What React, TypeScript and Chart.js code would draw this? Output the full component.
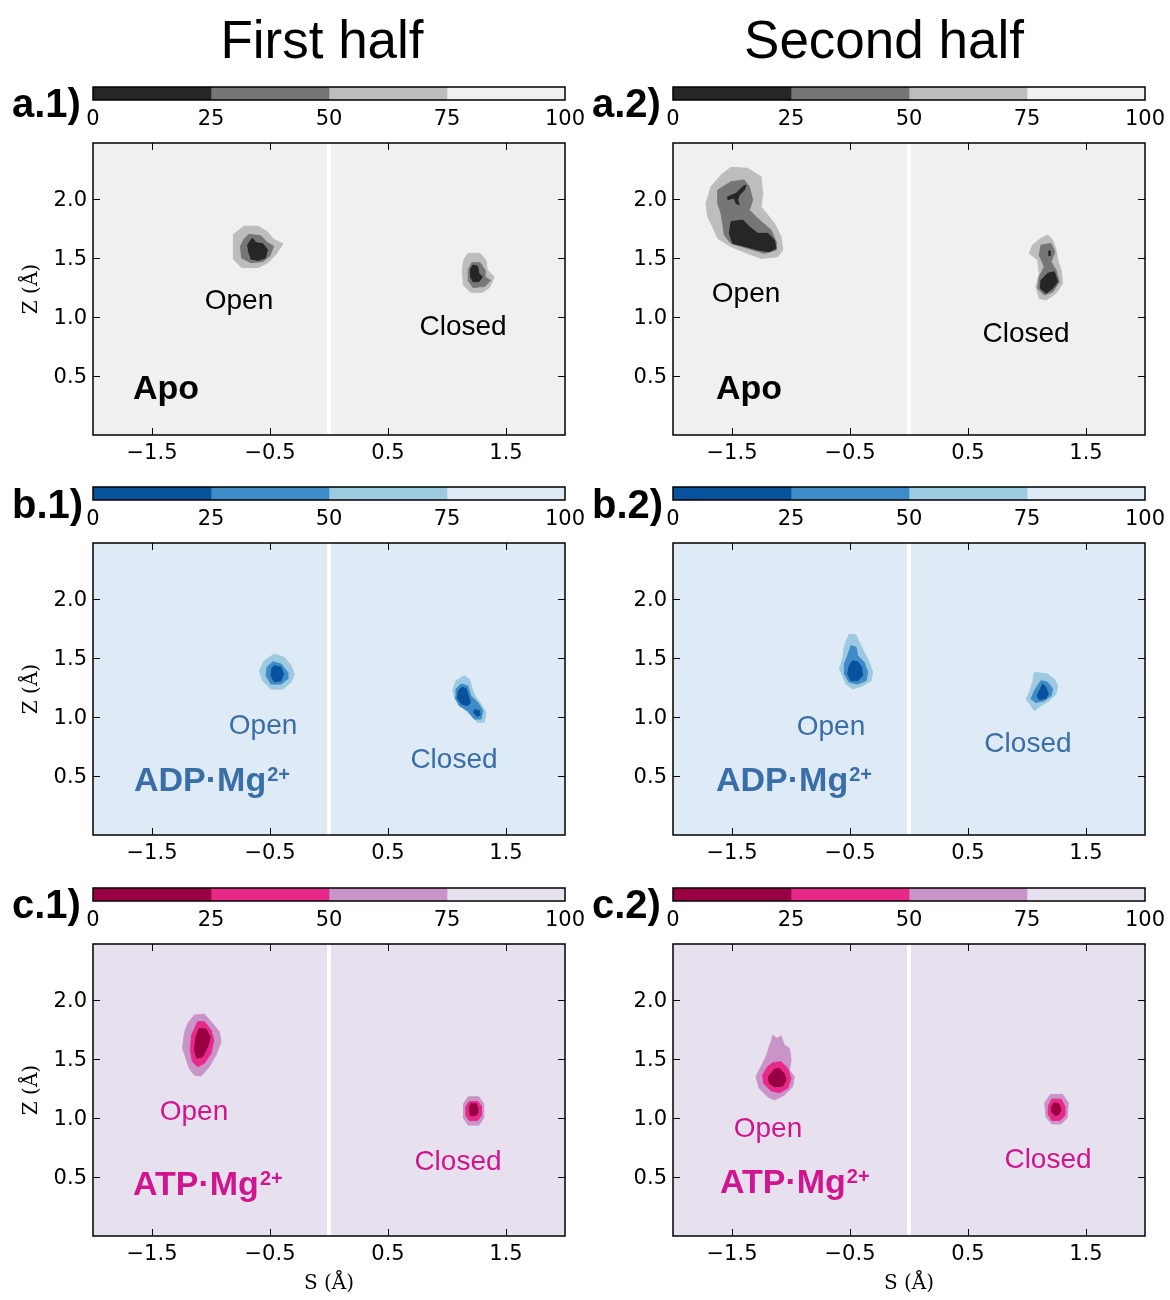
import React, { useEffect, useRef } from "react";
import { Chart, registerables } from "chart.js";
Chart.register(...registerables);

type Pt = [number, number];

// ---- axes / scale data ----
const X_TICKS = [-1.5, -0.5, 0.5, 1.5];
const Y_TICKS = [0.5, 1.0, 1.5, 2.0];
const X_MIN = -2;
const X_MAX = 2;
const Y_MIN = 0;
const Y_MAX = 2.475;
const SEPARATOR: Pt[] = [[0, 0], [0, 2.475]];
const CB_TICKS = [0, 25, 50, 75, 100];
const CB_SEGMENTS = [25, 25, 25, 25];

const HALF_TITLES = ["First half", "Second half"];
const PANEL_TAGS = [["a.1)", "a.2)"], ["b.1)", "b.2)"], ["c.1)", "c.2)"]];
const LIGANDS = ["Apo", "ADP·Mg", "ATP·Mg"];
const LIGAND_SUP = ["", "2+", "2+"];
const STATES = ["Open", "Closed"];

// colour levels: 0–25, 25–50, 50–75, 75–100
const GREYS = ["#262626", "#767676", "#bdbdbd", "#f0f0f0"];
const BLUES = ["#08519c", "#3d8bc7", "#9ecae1", "#deebf7"];
const PURDS = ["#980043", "#e7298a", "#c994c7", "#e7e1ef"];
const TEXT_COLORS = ["#000000", "#3a6ea6", "#d0168f"];

// ---- contour polygons (S, Z) ----
// a.1
const a1Open75: Pt[] = [[-0.72,1.77],[-0.6,1.77],[-0.52,1.72],[-0.47,1.66],[-0.39,1.62],[-0.45,1.53],[-0.52,1.46],[-0.6,1.42],[-0.74,1.42],[-0.81,1.49],[-0.81,1.7]];
const a1Open50: Pt[] = [[-0.68,1.7],[-0.58,1.69],[-0.52,1.63],[-0.47,1.6],[-0.5,1.52],[-0.56,1.47],[-0.66,1.46],[-0.74,1.5],[-0.75,1.6],[-0.72,1.66]];
const a1Open25: Pt[] = [[-0.65,1.67],[-0.62,1.63],[-0.56,1.62],[-0.52,1.57],[-0.54,1.5],[-0.6,1.48],[-0.66,1.49],[-0.68,1.55],[-0.69,1.61]];
const a1Closed75: Pt[] = [[1.18,1.54],[1.28,1.54],[1.33,1.48],[1.34,1.4],[1.4,1.34],[1.36,1.25],[1.3,1.21],[1.2,1.21],[1.14,1.27],[1.13,1.38],[1.14,1.48]];
const a1Closed50: Pt[] = [[1.21,1.46],[1.28,1.46],[1.32,1.4],[1.32,1.34],[1.37,1.31],[1.32,1.26],[1.22,1.25],[1.18,1.31],[1.18,1.4]];
const a1Closed25: Pt[] = [[1.22,1.44],[1.26,1.43],[1.27,1.37],[1.3,1.34],[1.27,1.3],[1.22,1.3],[1.2,1.34],[1.2,1.41]];
// a.2
const a2Open75: Pt[] = [[-1.508,2.269],[-1.367,2.26],[-1.254,2.189],[-1.24,2.048],[-1.254,1.935],[-1.141,1.794],[-1.085,1.681],[-1.07,1.568],[-1.113,1.511],[-1.254,1.497],[-1.367,1.54],[-1.508,1.596],[-1.621,1.667],[-1.664,1.765],[-1.706,1.85],[-1.72,1.964],[-1.678,2.104],[-1.593,2.203]];
const a2Open50: Pt[] = [[-1.621,2.076],[-1.508,2.147],[-1.396,2.161],[-1.353,2.104],[-1.325,1.992],[-1.353,1.907],[-1.282,1.836],[-1.169,1.737],[-1.127,1.638],[-1.127,1.568],[-1.226,1.54],[-1.367,1.582],[-1.508,1.624],[-1.565,1.695],[-1.579,1.794],[-1.593,1.879],[-1.621,1.964]];
const a2Open25: Pt[] = [[-1.508,1.808],[-1.409,1.822],[-1.353,1.765],[-1.282,1.709],[-1.197,1.709],[-1.141,1.653],[-1.127,1.582],[-1.184,1.553],[-1.282,1.568],[-1.381,1.596],[-1.494,1.624],[-1.523,1.709]];
const a2Open25b: Pt[] = [[-1.536,2.02],[-1.466,2.048],[-1.409,2.104],[-1.381,2.119],[-1.396,2.076],[-1.438,2.034],[-1.452,1.992],[-1.438,1.949],[-1.466,1.964],[-1.48,2.006],[-1.536,1.997]];
const a2Closed75: Pt[] = [[1.119,1.667],[1.175,1.695],[1.218,1.653],[1.246,1.568],[1.26,1.483],[1.288,1.398],[1.302,1.286],[1.246,1.201],[1.161,1.144],[1.104,1.158],[1.076,1.257],[1.104,1.37],[1.091,1.483],[1.02,1.54],[1.048,1.61]];
const a2Closed50: Pt[] = [[1.119,1.61],[1.203,1.624],[1.237,1.553],[1.203,1.469],[1.246,1.398],[1.274,1.299],[1.218,1.214],[1.147,1.186],[1.091,1.243],[1.104,1.341],[1.147,1.426],[1.104,1.525]];
const a2Closed25: Pt[] = [[1.175,1.37],[1.231,1.384],[1.26,1.299],[1.218,1.243],[1.161,1.201],[1.113,1.243],[1.119,1.314]];
const a2Closed25b: Pt[] = [[1.185,1.56],[1.195,1.56],[1.195,1.52],[1.185,1.52]];
// b.1
const b1Open75: Pt[] = [[-0.464,1.534],[-0.379,1.506],[-0.322,1.435],[-0.294,1.364],[-0.322,1.294],[-0.392,1.237],[-0.492,1.237],[-0.562,1.308],[-0.591,1.392],[-0.548,1.477]];
const b1Open50: Pt[] = [[-0.477,1.469],[-0.407,1.449],[-0.35,1.379],[-0.35,1.322],[-0.407,1.28],[-0.492,1.28],[-0.534,1.35],[-0.525,1.421]];
const b1Open25: Pt[] = [[-0.464,1.435],[-0.407,1.421],[-0.385,1.364],[-0.407,1.308],[-0.464,1.299],[-0.492,1.35],[-0.486,1.407]];
const b1Closed75: Pt[] = [[1.147,1.35],[1.189,1.322],[1.218,1.223],[1.246,1.167],[1.288,1.11],[1.331,1.04],[1.316,0.955],[1.26,0.955],[1.203,1.011],[1.133,1.082],[1.076,1.138],[1.048,1.223],[1.076,1.308]];
const b1Closed50: Pt[] = [[1.119,1.28],[1.175,1.265],[1.203,1.181],[1.26,1.124],[1.303,1.054],[1.288,0.983],[1.232,0.983],[1.175,1.054],[1.104,1.096],[1.068,1.167],[1.076,1.237]];
const b1Closed25: Pt[] = [[1.124,1.251],[1.161,1.243],[1.181,1.181],[1.198,1.124],[1.175,1.096],[1.124,1.11],[1.09,1.158],[1.096,1.223]];
const b1Closed25b: Pt[] = [[1.232,1.062],[1.274,1.054],[1.282,1.017],[1.254,1.006],[1.226,1.034]];
// b.2
const b2Open75: Pt[] = [[-0.506,1.703],[-0.449,1.695],[-0.421,1.633],[-0.379,1.548],[-0.336,1.463],[-0.308,1.379],[-0.322,1.308],[-0.393,1.265],[-0.477,1.237],[-0.534,1.28],[-0.576,1.379],[-0.591,1.407],[-0.562,1.492],[-0.548,1.605]];
const b2Open50: Pt[] = [[-0.492,1.605],[-0.449,1.591],[-0.435,1.52],[-0.379,1.463],[-0.35,1.379],[-0.364,1.308],[-0.435,1.28],[-0.506,1.294],[-0.548,1.364],[-0.548,1.449],[-0.52,1.52]];
const b2Open25: Pt[] = [[-0.477,1.477],[-0.435,1.469],[-0.401,1.421],[-0.393,1.35],[-0.435,1.308],[-0.492,1.308],[-0.52,1.364],[-0.506,1.435]];
const b2Closed75: Pt[] = [[1.062,1.379],[1.175,1.364],[1.231,1.322],[1.26,1.265],[1.246,1.195],[1.189,1.138],[1.119,1.096],[1.062,1.054],[1.034,1.096],[0.992,1.153],[1.02,1.209],[1.048,1.294]];
const b2Closed50: Pt[] = [[1.119,1.308],[1.175,1.294],[1.218,1.237],[1.203,1.181],[1.147,1.138],[1.076,1.124],[1.034,1.153],[1.062,1.223]];
const b2Closed25: Pt[] = [[1.133,1.28],[1.161,1.251],[1.181,1.195],[1.161,1.158],[1.104,1.147],[1.085,1.181],[1.113,1.237]];
// c.1
const c1Open75: Pt[] = [[-1.141,1.873],[-1.057,1.881],[-0.986,1.802],[-0.93,1.731],[-0.915,1.647],[-0.958,1.534],[-1.014,1.435],[-1.085,1.356],[-1.141,1.364],[-1.184,1.421],[-1.212,1.506],[-1.24,1.591],[-1.226,1.718],[-1.197,1.802]];
const c1Open50: Pt[] = [[-1.113,1.816],[-1.057,1.816],[-1.0,1.746],[-0.977,1.661],[-1.0,1.548],[-1.057,1.464],[-1.113,1.435],[-1.156,1.477],[-1.176,1.576],[-1.164,1.703]];
const c1Open25: Pt[] = [[-1.099,1.76],[-1.042,1.752],[-1.006,1.689],[-1.028,1.604],[-1.071,1.52],[-1.119,1.506],[-1.141,1.576],[-1.127,1.689]];
const c1Closed75: Pt[] = [[1.18,1.18],[1.27,1.18],[1.31,1.12],[1.31,1.0],[1.27,0.94],[1.18,0.94],[1.14,1.0],[1.14,1.12]];
const c1Closed50: Pt[] = [[1.19,1.14],[1.26,1.14],[1.29,1.1],[1.29,1.02],[1.26,0.98],[1.19,0.98],[1.16,1.02],[1.16,1.1]];
const c1Closed25: Pt[] = [[1.2,1.12],[1.25,1.12],[1.26,1.09],[1.26,1.04],[1.24,1.02],[1.2,1.02],[1.19,1.05],[1.19,1.09]];
// c.2
const c2Open75: Pt[] = [[-1.155,1.703],[-1.119,1.675],[-1.085,1.695],[-1.057,1.619],[-1.014,1.591],[-1.0,1.492],[-1.014,1.407],[-0.972,1.35],[-0.986,1.265],[-1.057,1.195],[-1.141,1.153],[-1.198,1.181],[-1.269,1.252],[-1.297,1.35],[-1.254,1.435],[-1.212,1.519],[-1.184,1.604],[-1.164,1.661]];
const c2Open50: Pt[] = [[-1.155,1.469],[-1.085,1.477],[-1.028,1.421],[-1.0,1.336],[-1.028,1.252],[-1.099,1.214],[-1.169,1.231],[-1.231,1.294],[-1.24,1.364],[-1.198,1.435]];
const c2Open25: Pt[] = [[-1.141,1.413],[-1.099,1.421],[-1.057,1.379],[-1.042,1.322],[-1.07,1.271],[-1.141,1.265],[-1.184,1.294],[-1.192,1.35]];
const c2Closed75: Pt[] = [[1.2,1.2],[1.3,1.2],[1.35,1.13],[1.34,1.0],[1.29,0.95],[1.21,0.95],[1.16,1.01],[1.15,1.13]];
const c2Closed50: Pt[] = [[1.21,1.16],[1.29,1.16],[1.32,1.1],[1.32,1.02],[1.28,0.98],[1.21,0.98],[1.18,1.03],[1.18,1.1]];
const c2Closed25: Pt[] = [[1.23,1.13],[1.27,1.12],[1.29,1.07],[1.27,1.03],[1.24,1.02],[1.21,1.05],[1.21,1.1]];

// level index per polygon: 2 = 50–75, 1 = 25–50, 0 = 0–25
const POLYS: [number, Pt[]][][][] = [
  [
    [[2, a1Open75], [1, a1Open50], [0, a1Open25], [2, a1Closed75], [1, a1Closed50], [0, a1Closed25]],
    [[2, a2Open75], [1, a2Open50], [0, a2Open25], [0, a2Open25b], [2, a2Closed75], [1, a2Closed50], [0, a2Closed25], [0, a2Closed25b]],
  ],
  [
    [[2, b1Open75], [1, b1Open50], [0, b1Open25], [2, b1Closed75], [1, b1Closed50], [0, b1Closed25], [0, b1Closed25b]],
    [[2, b2Open75], [1, b2Open50], [0, b2Open25], [2, b2Closed75], [1, b2Closed50], [0, b2Closed25]],
  ],
  [
    [[2, c1Open75], [1, c1Open50], [0, c1Open25], [2, c1Closed75], [1, c1Closed50], [0, c1Closed25]],
    [[2, c2Open75], [1, c2Open50], [0, c2Open25], [2, c2Closed75], [1, c2Closed50], [0, c2Closed25]],
  ],
];

// label anchors (S, Z): open label centre, closed label centre, ligand label left edge
const OPEN_POS: Pt[][] = [[[-0.763, 1.134], [-1.381, 1.193]], [[-0.559, 0.922], [-0.661, 0.914]], [[-1.144, 1.049], [-1.195, 0.905]]];
const CLOSED_POS: Pt[][] = [[[1.136, 0.914], [0.992, 0.854]], [[1.059, 0.634], [1.008, 0.77]], [[1.093, 0.626], [1.178, 0.643]]];
const LIGAND_POS: Pt[][] = [[[-1.661, 0.381], [-1.636, 0.381]], [[-1.653, 0.449], [-1.636, 0.449]], [[-1.661, 0.424], [-1.602, 0.441]]];

const PALETTES = [GREYS, BLUES, PURDS];

// ---- layout ----
const COL_LEFT = [93, 673];
const ROW_TOP = [143, 543, 944];
const PLOT_W = 472;
const PLOT_H = 292;
const Y_AXIS_W = 90;
const X_AXIS_H = 60;
const PAD_TOP = 24;
const PAD_RIGHT = 6;

const TICK_FONT = { family: "'DejaVu Sans', sans-serif", size: 21 };
const TITLE_FONT = { family: "'DejaVu Serif', serif", size: 20 };
const SANS = "'Liberation Sans', Arial, sans-serif";

const fmt = (v: number) => (v < 0 ? "\u2212" + Math.abs(v).toFixed(1) : v.toFixed(1));

const panelPlugin = {
  id: "panelDecor",
  beforeDraw(chart: any, _a: any, opts: any) {
    const { ctx, chartArea: ca } = chart;
    ctx.save();
    ctx.fillStyle = opts.bg;
    ctx.fillRect(ca.left, ca.top, ca.right - ca.left, ca.bottom - ca.top);
    ctx.restore();
  },
  afterDatasetsDraw(chart: any, _a: any, opts: any) {
    const { ctx, scales } = chart;
    ctx.save();
    for (const lb of opts.labels) {
      const px = scales.x.getPixelForValue(lb.x);
      const py = scales.y.getPixelForValue(lb.y);
      ctx.font = `${lb.bold ? "bold " : ""}${lb.size}px ${SANS}`;
      ctx.fillStyle = lb.color;
      ctx.textAlign = lb.align;
      ctx.textBaseline = "middle";
      ctx.fillText(lb.text, px, py);
      if (lb.sup) {
        const w = ctx.measureText(lb.text).width;
        ctx.font = `bold ${Math.round(lb.size * 0.6)}px ${SANS}`;
        ctx.textAlign = "left";
        ctx.fillText(lb.sup, px + w + 1, py - lb.size * 0.2);
      }
    }
    ctx.restore();
  },
  afterDraw(chart: any) {
    const { ctx, chartArea: ca, scales } = chart;
    ctx.save();
    ctx.strokeStyle = "#000";
    ctx.lineWidth = 1;
    const tl = 7;
    ctx.beginPath();
    for (const v of X_TICKS) {
      const px = Math.round(scales.x.getPixelForValue(v)) + 0.5;
      ctx.moveTo(px, ca.bottom);
      ctx.lineTo(px, ca.bottom - tl);
      ctx.moveTo(px, ca.top);
      ctx.lineTo(px, ca.top + tl);
    }
    for (const v of Y_TICKS) {
      const py = Math.round(scales.y.getPixelForValue(v)) + 0.5;
      ctx.moveTo(ca.left, py);
      ctx.lineTo(ca.left + tl, py);
      ctx.moveTo(ca.right, py);
      ctx.lineTo(ca.right - tl, py);
    }
    ctx.stroke();
    ctx.lineWidth = 1.5;
    ctx.strokeRect(ca.left, ca.top, ca.right - ca.left, ca.bottom - ca.top);
    ctx.restore();
  },
};

const cbPlugin = {
  id: "cbFrame",
  afterDraw(chart: any) {
    const { ctx, chartArea: ca } = chart;
    ctx.save();
    ctx.strokeStyle = "#000";
    ctx.lineWidth = 1.5;
    ctx.strokeRect(ca.left, ca.top, ca.right - ca.left, ca.bottom - ca.top);
    ctx.restore();
  },
};

function Panel({ row, col }: { row: number; col: number }) {
  const ref = useRef<HTMLCanvasElement>(null);
  const w = Y_AXIS_W + PLOT_W + PAD_RIGHT;
  const h = PAD_TOP + PLOT_H + X_AXIS_H;
  useEffect(() => {
    const palette = PALETTES[row];
    const datasets: any[] = [
      {
        data: SEPARATOR.map(([x, y]) => ({ x, y })),
        borderColor: "#ffffff",
        borderWidth: 4,
        pointRadius: 0,
        fill: false,
        order: 10,
      },
    ];
    for (const [lvl, pts] of POLYS[row][col]) {
      datasets.push({
        data: [...pts, pts[0]].map(([x, y]) => ({ x, y })),
        borderColor: palette[lvl],
        backgroundColor: palette[lvl],
        borderWidth: 1,
        pointRadius: 0,
        tension: 0,
        fill: "shape",
        order: lvl + 1,
      });
    }
    const color = TEXT_COLORS[row];
    const labels = [
      { text: STATES[0], x: OPEN_POS[row][col][0], y: OPEN_POS[row][col][1], size: 28, bold: false, color, align: "center" },
      { text: STATES[1], x: CLOSED_POS[row][col][0], y: CLOSED_POS[row][col][1], size: 28, bold: false, color, align: "center" },
      { text: LIGANDS[row], sup: LIGAND_SUP[row], x: LIGAND_POS[row][col][0], y: LIGAND_POS[row][col][1], size: 34, bold: true, color, align: "left" },
    ];
    const chart = new Chart(ref.current as HTMLCanvasElement, {
      type: "line",
      data: { datasets },
      options: {
        animation: false,
        responsive: false,
        devicePixelRatio: 1,
        events: [],
        layout: { padding: { top: PAD_TOP, right: PAD_RIGHT, left: 0, bottom: 0 } },
        plugins: {
          legend: { display: false },
          tooltip: { enabled: false },
          panelDecor: { bg: palette[3], labels },
        } as any,
        scales: {
          x: {
            type: "linear",
            min: X_MIN,
            max: X_MAX,
            afterBuildTicks: (ax: any) => {
              ax.ticks = X_TICKS.map((v) => ({ value: v }));
            },
            afterFit: (ax: any) => {
              ax.height = X_AXIS_H;
            },
            grid: { display: false, drawTicks: false },
            border: { display: false },
            ticks: { font: TICK_FONT, color: "#000", padding: 6, maxRotation: 0, autoSkip: false, callback: (v: any) => fmt(Number(v)) },
            title: { display: row === 2, text: "S (Å)", font: TITLE_FONT, color: "#000", padding: { top: 0, bottom: 0 } },
          },
          y: {
            type: "linear",
            min: Y_MIN,
            max: Y_MAX,
            afterBuildTicks: (ax: any) => {
              ax.ticks = Y_TICKS.map((v) => ({ value: v }));
            },
            afterFit: (ax: any) => {
              ax.width = Y_AXIS_W;
            },
            grid: { display: false, drawTicks: false },
            border: { display: false },
            ticks: { font: TICK_FONT, color: "#000", padding: 6, labelOffset: 2, autoSkip: false, callback: (v: any) => Number(v).toFixed(1) },
            title: { display: col === 0, text: "Z (Å)", font: TITLE_FONT, color: "#000", padding: { top: 17, bottom: 0 } },
          },
        },
      } as any,
      plugins: [panelPlugin as any],
    });
    return () => chart.destroy();
  }, [row, col]);
  return (
    <canvas
      ref={ref}
      width={w}
      height={h}
      style={{ position: "absolute", left: COL_LEFT[col] - Y_AXIS_W, top: ROW_TOP[row] - PAD_TOP, width: w, height: h }}
    />
  );
}

function ColorBar({ row, col }: { row: number; col: number }) {
  const ref = useRef<HTMLCanvasElement>(null);
  const side = 30;
  const barH = 13;
  const axisH = 34;
  const w = PLOT_W + side * 2;
  const h = 2 + barH + axisH;
  useEffect(() => {
    const palette = PALETTES[row];
    const chart = new Chart(ref.current as HTMLCanvasElement, {
      type: "bar",
      data: {
        labels: [""],
        datasets: CB_SEGMENTS.map((v, i) => ({
          data: [v],
          backgroundColor: palette[i],
          borderWidth: 0,
          barPercentage: 1,
          categoryPercentage: 1,
        })),
      },
      options: {
        indexAxis: "y",
        animation: false,
        responsive: false,
        devicePixelRatio: 1,
        events: [],
        layout: { padding: { top: 2, left: side, right: side, bottom: 0 } },
        plugins: { legend: { display: false }, tooltip: { enabled: false } },
        scales: {
          x: {
            stacked: true,
            min: 0,
            max: 100,
            afterBuildTicks: (ax: any) => {
              ax.ticks = CB_TICKS.map((v) => ({ value: v }));
            },
            afterFit: (ax: any) => {
              ax.height = axisH;
            },
            grid: { display: false, drawTicks: false },
            border: { display: false },
            ticks: { font: TICK_FONT, color: "#000", padding: 7, maxRotation: 0, autoSkip: false },
          },
          y: { stacked: true, display: false },
        },
      } as any,
      plugins: [cbPlugin as any],
    });
    return () => chart.destroy();
  }, [row, col]);
  return (
    <canvas
      ref={ref}
      width={w}
      height={h}
      style={{ position: "absolute", left: COL_LEFT[col] - side, top: ROW_TOP[row] - 56 - 2, width: w, height: h }}
    />
  );
}

const TAG_LEFT = [12, 592];
const TAG_BASELINE = [117, 518, 918];
const HEADER_CENTER = [322, 884];

export default function App() {
  const cells: [number, number][] = [];
  for (let r = 0; r < 3; r++) for (let c = 0; c < 2; c++) cells.push([r, c]);
  return (
    <div style={{ position: "absolute", left: 0, top: 0, width: 1170, height: 1300, background: "#fff", overflow: "hidden" }}>
      {cells.map(([r, c]) => (
        <Panel key={`p${r}${c}`} row={r} col={c} />
      ))}
      {cells.map(([r, c]) => (
        <ColorBar key={`c${r}${c}`} row={r} col={c} />
      ))}
      {HALF_TITLES.map((t, i) => (
        <div
          key={t}
          style={{
            position: "absolute",
            left: HEADER_CENTER[i] - 200,
            width: 400,
            top: 13,
            textAlign: "center",
            fontFamily: SANS,
            fontSize: 53,
            lineHeight: "53px",
            whiteSpace: "nowrap",
            color: "#000",
          }}
        >
          {t}
        </div>
      ))}
      {cells.map(([r, c]) => (
        <div
          key={`t${r}${c}`}
          style={{
            position: "absolute",
            left: TAG_LEFT[c],
            top: TAG_BASELINE[r] - 34,
            fontFamily: SANS,
            fontWeight: "bold",
            fontSize: 40,
            lineHeight: "40px",
            whiteSpace: "nowrap",
            color: "#000",
          }}
        >
          {PANEL_TAGS[r][c]}
        </div>
      ))}
    </div>
  );
}
